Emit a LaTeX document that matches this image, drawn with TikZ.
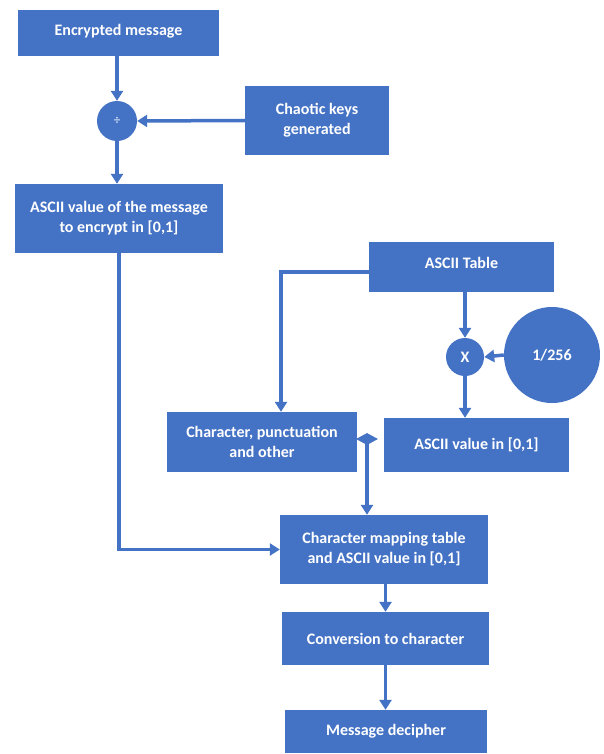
\documentclass[tikz,border=0pt]{standalone}
\usepackage{fontspec}
\setmainfont{Carlito}
\usetikzlibrary{arrows.meta,shapes.geometric}
\definecolor{obl}{HTML}{4472C4}
\begin{document}
\begin{tikzpicture}[x=1pt,y=-1pt,
  box/.style={rectangle,fill=obl,text=white,font=\fontsize{16}{20}\selectfont\bfseries,align=center,inner sep=0pt},
  circ/.style={circle,fill=obl,text=white,inner sep=0pt},
  conn/.style={draw=obl,line width=3.5pt,-{Triangle[width=12pt,length=10pt]}},
  plain/.style={draw=obl,line width=3.5pt}]
\path[use as bounding box,fill=white] (0,0) rectangle (604,754);
\node[box,minimum width=201pt,minimum height=46pt] (enc) at (118.5,33) {\raisebox{6pt}{Encrypted message}};
\node[circ,minimum size=40pt,font=\fontsize{13}{14}\selectfont] (div) at (117,121) {÷};
\node[box,minimum width=144pt,minimum height=69pt] (keys) at (317,120.5) {Chaotic keys\\generated};
\node[box,minimum width=208pt,minimum height=69pt] (msg) at (119,218.5) {ASCII value of the message\\to encrypt in [0,1]};
\node[box,minimum width=185pt,minimum height=50pt] (table) at (461.5,267) {\raisebox{8pt}{ASCII Table}};
\node[circ,minimum size=38pt,font=\fontsize{16}{20}\selectfont\bfseries] (X) at (465,357) {X};
\node[circ,minimum size=96pt,font=\fontsize{16}{20}\selectfont\bfseries] (c256) at (552,355) {1/256};
\node[box,minimum width=190pt,minimum height=60pt] (chars) at (262,442) {Character, punctuation\\and other};
\node[box,minimum width=185pt,minimum height=54pt] (aval) at (476.5,445) {ASCII value in [0,1]};
\node[box,minimum width=208pt,minimum height=69pt] (map) at (384,549.5) {Character mapping table\\and ASCII value in [0,1]};
\node[box,minimum width=207pt,minimum height=53pt] (conv) at (385.5,638.5) {Conversion to character};
\node[box,minimum width=202pt,minimum height=43pt] (dec) at (386,731.5) {Message decipher};
\node[diamond,fill=obl,inner sep=0pt,minimum width=22pt,minimum height=12pt] (dia) at (367,439) {};
\coordinate (chin) at ([xshift=19pt]chars.north);
\coordinate (tabw) at ([yshift=-5pt]table.west);
\draw[conn] (enc.south -| div.north) -- (div.north);
\draw[conn] (keys.west) -- (div.east);
\draw[conn] (div.south) -- (div.south |- msg.north);
\draw[conn] (msg.south) |- (map.west);
\draw[conn] (tabw) -| (chin);
\draw[conn] (X.north |- table.south) -- (X.north);
\draw[conn] (c256.west) -- (X.east);
\draw[conn] (X.south) -- (X.south |- aval.north);
\draw[conn] (dia.center) -- (dia.center |- map.north);
\draw[conn] (map.south -| conv.north) -- (conv.north);
\draw[conn] (conv.south) -- (conv.south |- dec.north);
\end{tikzpicture}
\end{document}
